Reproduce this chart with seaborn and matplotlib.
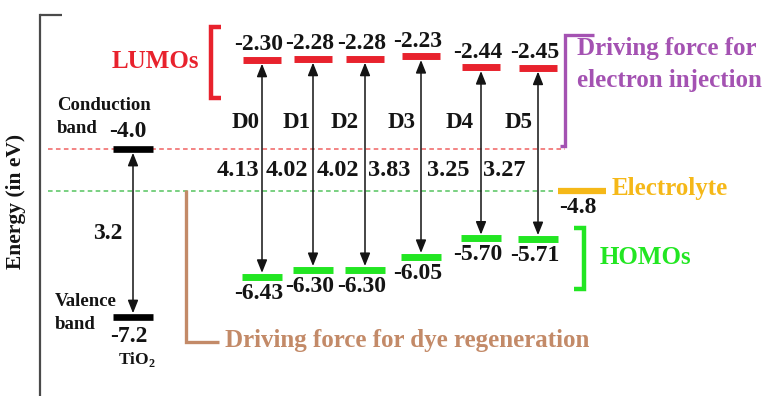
import matplotlib
matplotlib.use("Agg")
import matplotlib.pyplot as plt
import seaborn as sns

# Frontier orbital energies of the dyes (eV)
dyes = ["D0", "D1", "D2", "D3", "D4", "D5"]
lumo = [-2.30, -2.28, -2.28, -2.23, -2.44, -2.45]
homo = [-6.43, -6.30, -6.30, -6.05, -5.70, -5.71]
gap_labels = ["4.13", "4.02", "4.02", "3.83", "3.25", "3.27"]

# TiO2 band edges and redox level of the electrolyte (eV)
tio2_cb = -4.0
tio2_vb = -7.2
tio2_gap_label = "3.2"
electrolyte = -4.8

# Layout (figure pixels, origin top-left)
W, H = 763, 396
dye_x = [262, 313, 365, 421, 481, 538]
dye_label_x = [246, 297, 345, 402, 460, 519]
gap_label_x = [238, 287, 338, 389, 448, 504]
tio2_x = 133
elec_x = 582
half_bar = 19

RED = "#e8222d"
GREEN = "#22e622"
ORANGE = "#f5b818"
PURPLE = "#a452b2"
BROWN = "#c38a68"
INK = "#141414"

sns.set_theme(style="white")
plt.rcParams["font.family"] = ["Liberation Serif", "DejaVu Serif"]
plt.rcParams["font.weight"] = "bold"

fig = plt.figure(figsize=(W / 100, H / 100), dpi=100)
ax = fig.add_axes([40 / W, 0, 1 - 40 / W, 1 - 15 / H])
ax.set_xlim(40, W)
ax.set_ylim(-8.71, -1.44)
ax.set_xticks([])
ax.set_yticks([])
for side in ["top", "right", "bottom"]:
    ax.spines[side].set_visible(False)
ax.spines["left"].set_color("#4a4a4a")
ax.spines["left"].set_linewidth(1.6)
ax.plot([0, 22 / (W - 40)], [1, 1], transform=ax.transAxes, color="#4a4a4a",
        lw=1.6, clip_on=False, solid_capstyle="butt")
ax.set_ylabel("Energy (in eV)", fontsize=15.5, fontweight="bold", color=INK)
ax.yaxis.set_label_coords(-0.02, 0.51)


def fxy(x, y):
    return x / W, 1 - y / H


def ftext(x, y, s, **kw):
    kw.setdefault("color", INK)
    kw.setdefault("fontweight", "bold")
    fig.text(*fxy(x, y), s, va="center", **kw)


def bracket(pts, color, lw):
    xs = [p[0] / W for p in pts]
    ys = [1 - p[1] / H for p in pts]
    fig.add_artist(plt.Line2D(xs, ys, transform=fig.transFigure, color=color,
                              lw=lw, solid_capstyle="butt",
                              solid_joinstyle="miter"))


def level_label(x, y, s, dy, size=17, ha="center"):
    ax.annotate(s, (x, y), xytext=(0, dy), textcoords="offset points",
                ha=ha, va="center", fontsize=size, fontweight="bold",
                color=INK)


# Reference levels: TiO2 conduction band and electrolyte
ax.hlines(tio2_cb, 48, 565, colors="#f06262", linestyles=(0, (3, 2.2)), lw=1.1)
ax.hlines(electrolyte, 48, 553, colors="#55c45f", linestyles=(0, (3, 2.2)), lw=1.1)

arrow = dict(arrowstyle="<|-|>,head_length=0.6,head_width=0.24",
             color=INK, lw=1.1, mutation_scale=13, shrinkA=2.6, shrinkB=2.6)

# TiO2 bands
ax.hlines([tio2_cb, tio2_vb], tio2_x - 20, tio2_x + 20, colors="black", lw=4.8)
ax.annotate("", xy=(tio2_x, tio2_cb), xytext=(tio2_x, tio2_vb), arrowprops=arrow)
level_label(tio2_x - 5, tio2_cb, f"{tio2_cb:.1f}", 13)
level_label(tio2_x - 4, tio2_vb, f"{tio2_vb:.1f}", -14)
level_label(57, tio2_cb, "Conduction", 31.5, size=13.5, ha="left")
level_label(57, tio2_cb, "band", 15, size=13.5, ha="left")
level_label(55, tio2_vb, "Valence", 11, size=13.5, ha="left")
level_label(55, tio2_vb, "band", -5.5, size=13.5, ha="left")
level_label(tio2_x + 4, tio2_vb, r"TiO$_\mathregular{2}$", -31, size=12.5)
level_label(108, (tio2_cb + tio2_vb) / 2, tio2_gap_label, 0)

# Dye HOMO/LUMO levels
for i, name in enumerate(dyes):
    x = dye_x[i]
    ax.hlines(lumo[i], x - half_bar, x + half_bar, colors=RED, lw=5)
    ax.hlines(homo[i], x - half_bar - 1, x + half_bar + 1, colors=GREEN, lw=5)
    ax.annotate("", xy=(x, lumo[i]), xytext=(x, homo[i]), arrowprops=arrow)
    level_label(x - 3, lumo[i], f"{lumo[i]:.2f}", 11)
    level_label(x - 3, homo[i], f"{homo[i]:.2f}", -12)
    ftext(dye_label_x[i], 123, name, fontsize=16.5, ha="center")
    ftext(gap_label_x[i], 170, gap_labels[i], fontsize=17.5, ha="center")

# Electrolyte level
ax.hlines(electrolyte, elec_x - 24, elec_x + 24, colors=ORANGE, lw=4.5)
level_label(elec_x - 4, electrolyte, f"{electrolyte:.1f}", -12)
ftext(612, 189, "Electrolyte", fontsize=18, ha="left", color=ORANGE)

# Group annotations
ftext(155, 62, "LUMOs", fontsize=18, ha="center", color=RED)
bracket([(221, 27), (211, 27), (211, 98), (221, 98)], RED, 3.2)

ftext(600, 257, "HOMOs", fontsize=18, ha="left", color=GREEN)
bracket([(574, 228), (584, 228), (584, 289), (574, 289)], GREEN, 3.2)

ftext(577, 48, "Driving force for", fontsize=18, ha="left", color=PURPLE)
ftext(577, 80, "electron injection", fontsize=18, ha="left", color=PURPLE)
bracket([(560, 146), (565, 146), (565, 35), (594, 35)], PURPLE, 2.4)

ftext(225, 341, "Driving force for dye regeneration", fontsize=18, ha="left",
      color=BROWN)
bracket([(186, 190), (186, 342), (219, 342)], BROWN, 2.4)

fig.savefig("out.png", dpi=100)
